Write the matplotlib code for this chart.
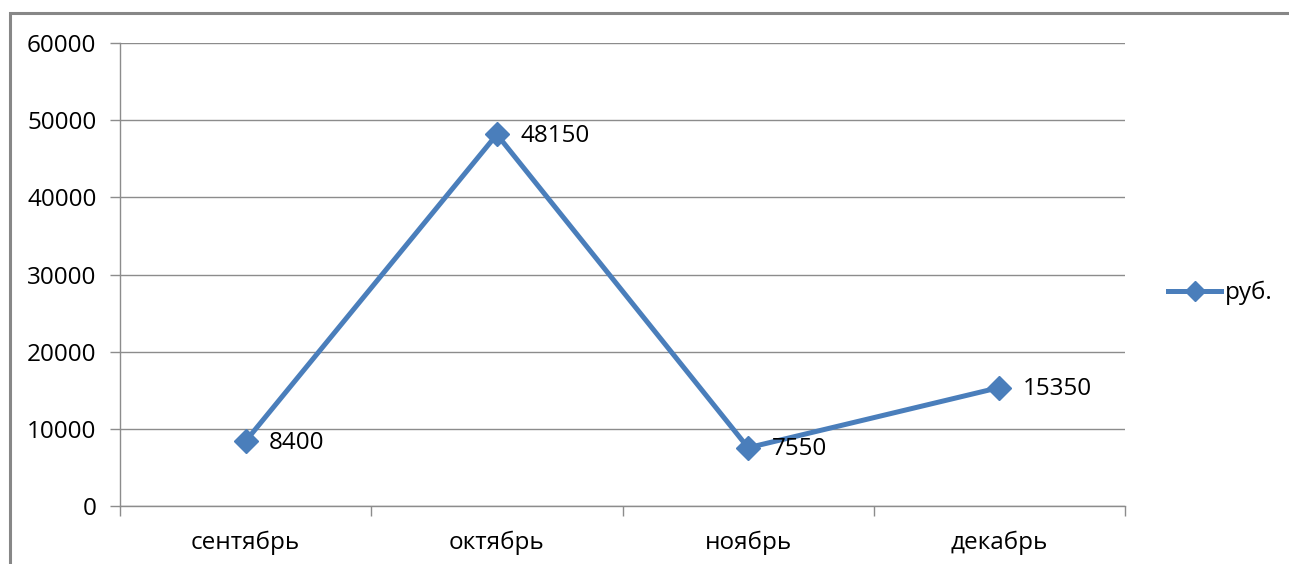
import matplotlib
matplotlib.use("Agg")
import matplotlib.pyplot as plt
from matplotlib.patches import Rectangle
from matplotlib.lines import Line2D

months = ["сентябрь", "октябрь", "ноябрь", "декабрь"]
rub = [8400, 48150, 7550, 15350]
y_ticks = [0, 10000, 20000, 30000, 40000, 50000, 60000]
series_name = "руб."

plt.rcParams['font.family'] = ['Open Sans', 'DejaVu Sans']

W, H = 1289, 564
fig = plt.figure(figsize=(W / 100, H / 100), dpi=100)

# outer chart frame (runs off the right and bottom edges)
fig.patches.append(Rectangle((10 / W, -0.05), 1.1, 1 - 13 / H + 0.05,
                             transform=fig.transFigure, fill=False,
                             edgecolor='#878787', linewidth=2.2))

ax = fig.add_axes([120 / W, (H - 506) / H, (1125 - 120) / W, (506 - 43) / H])

line_col = '#4A7EBB'
grid_col = '#8C8C8C'
fs = 17.5
x = list(range(len(months)))
ax.plot(x, rub, color=line_col, linewidth=3.6, marker='D', markersize=12.5,
        markerfacecolor=line_col, markeredgecolor=line_col, zorder=3)

for xi, v in zip(x, rub):
    ax.annotate(str(v), (xi, v), xytext=(17, -1), textcoords='offset points',
                ha='left', va='center', fontsize=fs, color='#000000')

ax.set_xlim(-0.5, len(months) - 0.5)
ax.set_ylim(0, 60000)
ax.set_yticks(y_ticks)
ax.set_yticklabels([str(t) for t in y_ticks], fontsize=fs)
ax.yaxis.grid(True, color=grid_col, linewidth=1.0)
ax.set_axisbelow(True)

# category labels centred, tick marks on category boundaries
ax.set_xticks(x)
ax.set_xticklabels(months, fontsize=fs)
ax.tick_params(axis='x', which='major', length=0, pad=18)
ax.set_xticks([i - 0.5 for i in range(len(months) + 1)], minor=True)
ax.tick_params(axis='x', which='minor', length=7, color=grid_col, width=1.0)
ax.tick_params(axis='y', length=7, color=grid_col, width=1.0, pad=10)

for s in ['top', 'right']:
    ax.spines[s].set_visible(False)
for s in ['left', 'bottom']:
    ax.spines[s].set_color(grid_col)
    ax.spines[s].set_linewidth(1.0)

handle = Line2D([], [], color=line_col, linewidth=3.6, marker='D',
                markersize=10, markerfacecolor=line_col, markeredgecolor=line_col)
fig.legend([handle], [series_name], loc='center left',
           bbox_to_anchor=(1146 / W, 1 - 293 / H), frameon=False,
           fontsize=fs, handlelength=2.2, handletextpad=0.15)

fig.savefig("out.png", dpi=100)
